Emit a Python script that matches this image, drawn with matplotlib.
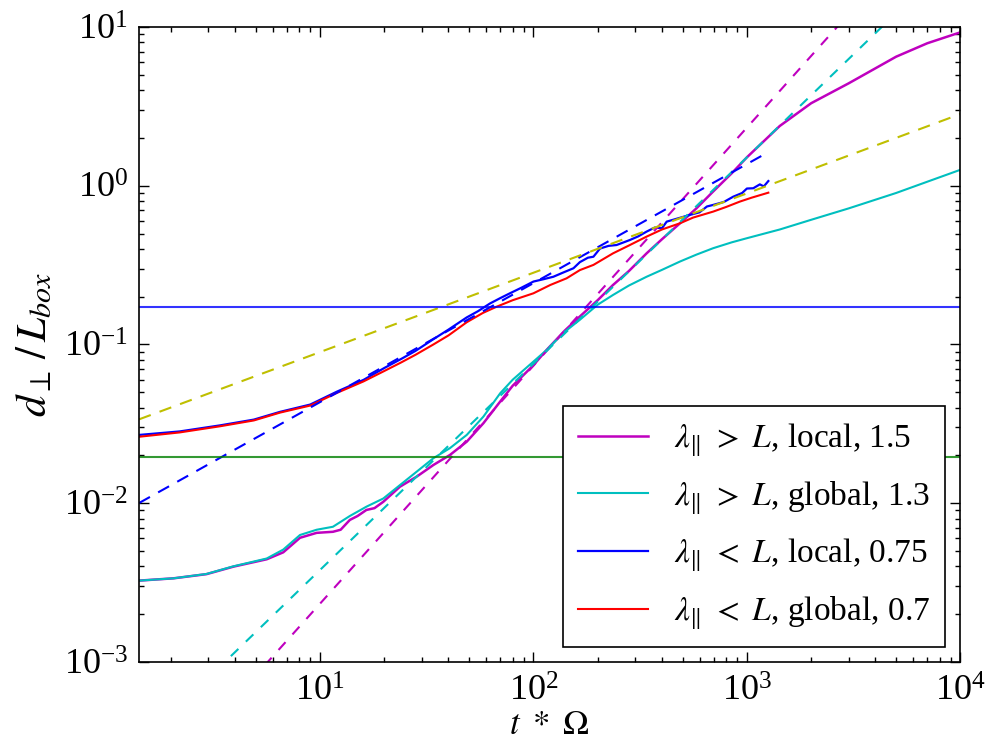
import matplotlib

matplotlib.use("Agg")
import matplotlib.pyplot as plt
import numpy as np

# lambda_par > L, local (magenta)
t_loc_long = [1.42, 2.06, 2.94, 3.93, 5.63, 6.73, 8.06, 9.65, 11.5, 12.5, 13.8, 15,
              16.5, 18, 19.8, 23.7, 28.4, 34, 40.6, 48.7, 58.3, 69.9, 80, 100, 115,
              140, 165, 200, 236, 280, 339, 400, 486, 580, 695, 850, 1000, 1426,
              2000, 3000, 5000, 7000, 10000]
d_loc_long = [0.00325, 0.00336, 0.00357, 0.00398, 0.00443, 0.0049, 0.00605, 0.0065,
              0.0066, 0.0068, 0.00784, 0.0083, 0.00906, 0.0093, 0.0102, 0.0127,
              0.0147, 0.0174, 0.0201, 0.0244, 0.0319, 0.0437, 0.055, 0.074, 0.092,
              0.122, 0.150, 0.190, 0.237, 0.290, 0.375, 0.46, 0.58, 0.72, 0.92,
              1.20, 1.51, 2.38, 3.31, 4.42, 6.5, 7.9, 9.26]

# lambda_par > L, global (cyan)
t_glob_long = [1.42, 2.06, 2.94, 3.93, 5.63, 6.73, 8.06, 9.65, 11.5, 13.8, 16.5,
               19.8, 23.7, 28.4, 34, 40.6, 48.7, 58.3, 69.9, 80, 100, 115, 140, 165,
               200, 236, 280, 339, 400, 486, 580, 695, 850, 1000, 1426, 2000, 3000,
               5000, 7000, 10000]
d_glob_long = [0.00325, 0.00336, 0.00358, 0.0040, 0.00448, 0.0051, 0.0063, 0.0068,
               0.0071, 0.0083, 0.0095, 0.0107, 0.0130, 0.0158, 0.0192, 0.0222,
               0.0269, 0.0351, 0.0493, 0.060, 0.078, 0.092, 0.120, 0.143, 0.178,
               0.205, 0.235, 0.267, 0.295, 0.333, 0.368, 0.404, 0.44, 0.467, 0.53,
               0.61, 0.72, 0.90, 1.06, 1.26]

# lambda_par < L, local (blue)
t_loc_short = [1.42, 2.2, 3.4, 4.9, 6.5, 9.0, 12, 16, 20, 24, 28, 34, 40, 48.7, 55,
               62.5, 70, 77.6, 88, 100, 112, 124, 138, 154, 165, 180, 191, 205, 225,
               245, 265, 283, 310, 339, 370, 400, 421, 470, 541, 600, 650, 695, 780,
               863, 950, 1000, 1071, 1150, 1200, 1260]
d_loc_short = [0.0269, 0.0283, 0.0309, 0.0336, 0.0376, 0.0418, 0.0504, 0.0598, 0.071,
               0.081, 0.091, 0.108, 0.124, 0.148, 0.162, 0.181, 0.196, 0.210, 0.228,
               0.249, 0.258, 0.267, 0.284, 0.302, 0.330, 0.352, 0.357, 0.402, 0.418,
               0.423, 0.440, 0.455, 0.480, 0.514, 0.545, 0.540, 0.594, 0.620, 0.655,
               0.680, 0.740, 0.757, 0.790, 0.853, 0.900, 0.960, 0.964, 1.02, 0.99,
               1.07]

# lambda_par < L, global (red)
t_glob_short = [1.42, 2.2, 3.4, 4.9, 6.5, 9.0, 12, 16, 20, 24, 28, 34, 40, 48.7, 58,
                67.3, 80, 100, 120, 143, 165, 191, 236, 280, 339, 400, 486, 560, 695,
                800, 926, 1050, 1260]
d_glob_short = [0.0262, 0.0279, 0.0305, 0.0332, 0.0372, 0.0412, 0.0495, 0.0585,
                0.068, 0.077, 0.086, 0.100, 0.114, 0.138, 0.158, 0.173, 0.190, 0.210,
                0.237, 0.261, 0.294, 0.317, 0.375, 0.420, 0.478, 0.530, 0.580, 0.630,
                0.687, 0.735, 0.794, 0.84, 0.904]

labels = [r"$\lambda_{\|}\ >\ L$, local, 1.5",
          r"$\lambda_{\|}\ >\ L$, global, 1.3",
          r"$\lambda_{\|}\ <\ L$, local, 0.75",
          r"$\lambda_{\|}\ <\ L$, global, 0.7"]

# power law fits: (amplitude, exponent, t range)
fit_loc_long = (7.35e-5, 1.5, (1.42, 1e4))
fit_glob_long = (1.9e-4, 1.3, (1.42, 1e4))
fit_loc_short = (0.0077, 0.75, (1.42, 1260))
fit_glob_short = (0.0283, 0.5, (1.42, 1e4))

level_blue = 0.172
level_green = 0.0196


def main():
    plt.rcParams["font.family"] = ["Liberation Serif", "DejaVu Serif"]
    plt.rcParams["mathtext.fontset"] = "stix"

    fig, axis = plt.subplots(figsize=(9.86, 7.42), dpi=100)
    fig.subplots_adjust(left=0.141, right=0.974, top=0.9636, bottom=0.108)

    series = [
        (t_loc_long, d_loc_long, (0.75, 0, 0.75), 1.8),
        (t_glob_long, d_glob_long, (0, 0.75, 0.75), 1.5),
        (t_loc_short, d_loc_short, (0, 0, 1), 1.6),
        (t_glob_short, d_glob_short, (1, 0, 0), 1.5),
    ]
    fits = [
        (fit_loc_long, (0.75, 0, 0.75), (5, 5)),
        (fit_glob_long, (0, 0.75, 0.75), (5, 5)),
        (fit_loc_short, (0, 0, 1), (6, 4.5)),
        (fit_glob_short, (0.75, 0.75, 0), (6, 4.5)),
    ]

    for (t, d, color, lw), label in zip(series, labels):
        axis.plot(t, d, color=color, linewidth=lw, label=label)

    for (amp, expo, trange), color, dashes in fits:
        t = np.array(trange)
        axis.plot(t, amp * t ** expo, color=color, linewidth=1.5,
                  linestyle="--", dashes=dashes)

    axis.axhline(level_blue, color=(0, 0, 1), linewidth=1.5, alpha=0.8)
    axis.axhline(level_green, color=(0, 0.5, 0), linewidth=1.5, alpha=0.8)

    axis.set_xscale("log")
    axis.set_yscale("log")
    axis.set_xlim(1.42, 1e4)
    axis.set_ylim(1e-3, 1e1)

    axis.tick_params(which="both", direction="in", top=True, right=True,
                     labelsize=26, width=1)
    axis.tick_params(which="major", length=7)
    axis.tick_params(which="minor", length=3.5)
    axis.tick_params(axis="x", which="major", pad=10)
    axis.tick_params(axis="y", which="major", pad=8)
    for spine in axis.spines.values():
        spine.set_linewidth(1.2)

    axis.set_xlabel(r"$t\ *\ \Omega$", fontsize=25, labelpad=0)
    axis.set_ylabel(r"$d_{\perp}\,/\,L_{box}$", fontsize=31, labelpad=6)

    legend = axis.legend(loc="lower right", fontsize=24, fancybox=False,
                         edgecolor="black", framealpha=1, handlelength=2.1,
                         handletextpad=0.8, borderpad=0.45, labelspacing=0.6,
                         borderaxespad=0.45)
    legend.get_frame().set_linewidth(1.2)

    fig.savefig("out.png", dpi=100)


if __name__ == "__main__":
    main()
